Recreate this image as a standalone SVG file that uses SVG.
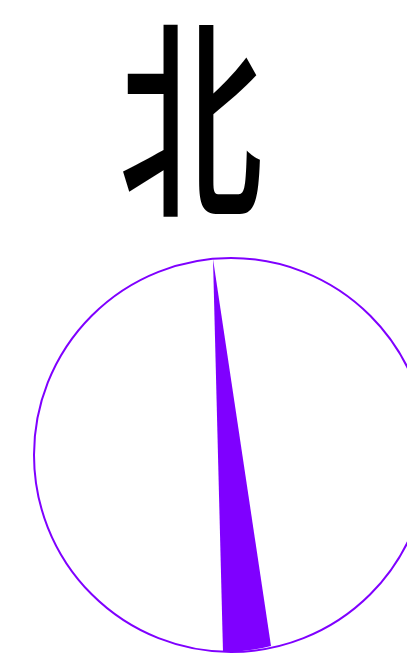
<svg xmlns="http://www.w3.org/2000/svg" width="407" height="670" viewBox="0 0 407 670">
<style>
.lbl{font-family:"Noto Sans CJK SC","Noto Sans CJK JP",sans-serif;fill:#000;font-weight:500}
.ring{fill:none;stroke:#7f00ff;stroke-width:2}
.needle{fill:#7f00ff;stroke:none}
</style>
<rect width="407" height="670" fill="#fff"/>
<g id="north-label">
<text class="lbl" transform="translate(191,0) scale(0.68,1)" x="0" y="201" font-size="212" text-anchor="middle">北</text>
</g>
<g id="compass">
<circle class="ring" cx="231" cy="455" r="197"/>
<path class="needle" d="M213,259 L223,652 A197,197 0 0 0 271,646 Z"/>
</g>
</svg>
